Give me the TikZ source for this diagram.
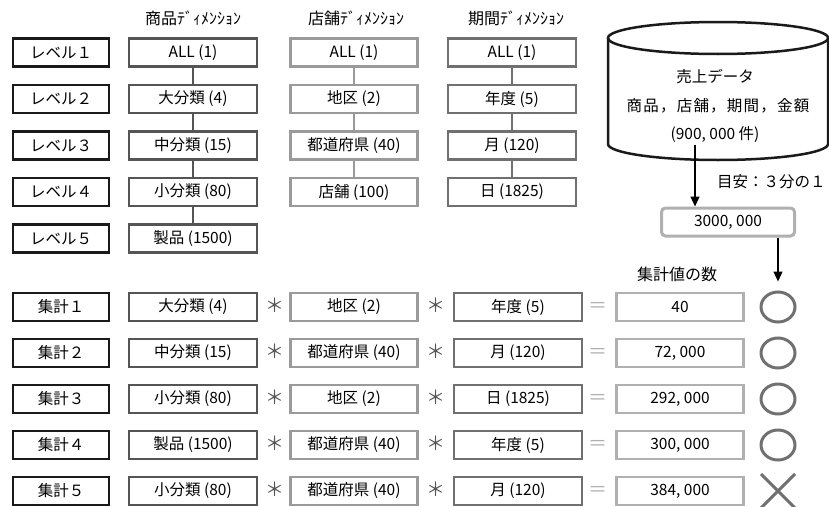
\documentclass[tikz,border=0pt]{standalone}
\usepackage{fontspec}
\setmainfont{Noto Sans CJK JP}
\usetikzlibrary{arrows.meta,shapes.geometric,calc}
\definecolor{cLvl}{HTML}{1A1A1A}
\definecolor{cProd}{HTML}{555555}
\definecolor{cStore}{HTML}{9A9A9A}
\definecolor{cPer}{HTML}{707070}
\definecolor{cVal}{HTML}{B0B0B0}
\definecolor{cMark}{HTML}{707070}
\begin{document}
\begin{tikzpicture}[x=1pt,y=-1pt,
  font=\fontsize{15.5}{17}\selectfont,
  box/.style={draw, line width=2.8pt, minimum height=28pt, inner sep=0pt, text=black},
  lvl/.style={box, draw=cLvl, minimum width=96pt},
  prod/.style={box, draw=cProd, minimum width=128pt},
  store/.style={box, draw=cStore, minimum width=127pt},
  per/.style={box, draw=cPer, minimum width=128pt},
  val/.style={box, draw=cVal, minimum width=127pt},
  link/.style={line width=2.8pt},
  op/.style={inner sep=0pt, font=\fontsize{19}{19}\selectfont},
  okmark/.style={ellipse, draw=cMark, line width=3pt, minimum width=34pt, minimum height=30pt, inner sep=0pt},
  arr/.style={line width=1.2pt, -{Triangle[length=10pt,width=9pt]}},
  hdr/.style={inner sep=0pt, font=\fontsize{16}{17}\selectfont}
]
\useasboundingbox (0,0) rectangle (829,506);

% headers
\node[hdr] (h1) at (193,18) {商品ﾃﾞｨﾒﾝｼｮﾝ};
\node[hdr] (h2) at (356,18) {店舗ﾃﾞｨﾒﾝｼｮﾝ};
\node[hdr] (h3) at (516,18) {期間ﾃﾞｨﾒﾝｼｮﾝ};

% levels
\node[lvl] (l1) at (61,52.5) {レベル１};
\node[lvl] (l2) at (61,99) {レベル２};
\node[lvl] (l3) at (61,145.5) {レベル３};
\node[lvl] (l4) at (61,192) {レベル４};
\node[lvl] (l5) at (61,238.5) {レベル５};

% product dimension
\node[prod] (p1) at (193,52.5) {ALL (1)};
\node[prod] (p2) at (193,99) {大分類 (4)};
\node[prod] (p3) at (193,145.5) {中分類 (15)};
\node[prod] (p4) at (193,192) {小分類 (80)};
\node[prod] (p5) at (193,238.5) {製品 (1500)};
\draw[link, draw=cProd] (p1) -- (p2) (p2) -- (p3) (p3) -- (p4) (p4) -- (p5);

% store dimension
\node[store] (s1) at (354,52.5) {ALL (1)};
\node[store] (s2) at (354,99) {地区 (2)};
\node[store] (s3) at (354,145.5) {都道府県 (40)};
\node[store] (s4) at (354,192) {店舗 (100)};
\draw[link, draw=cStore] (s1) -- (s2) (s2) -- (s3) (s3) -- (s4);

% period dimension
\node[per] (t1) at (512,52.5) {ALL (1)};
\node[per] (t2) at (512,99) {年度 (5)};
\node[per] (t3) at (512,145.5) {月 (120)};
\node[per] (t4) at (512,192) {日 (1825)};
\draw[link, draw=cPer] (t1) -- (t2) (t2) -- (t3) (t3) -- (t4);

% sales data cylinder
\draw[line width=2.5pt, draw=cLvl] (718,38) ellipse [x radius=110pt, y radius=16pt];
\draw[line width=2.5pt, draw=cLvl] (608,38) -- (608,144)
  arc[start angle=180, end angle=360, x radius=110pt, y radius=16pt] -- (828,38);
\node[inner sep=0pt] (db1) at (715,77) {売上データ};
\node[inner sep=0pt] (db2) at (718,106) {\addfontfeature{LetterSpace=8}商品，店舗，期間，金額};
\node[inner sep=0pt] (db3) at (715,135) {(900, 000 件)};
\coordinate (dbout) at (695,145);

\node[draw=cVal, line width=3pt, rounded corners=4pt, minimum width=133pt, minimum height=28pt, inner sep=0pt] (tot) at (728,222) {3000, 000};
\draw[arr] (dbout) -- (dbout |- tot.north);
\node[inner sep=0pt, anchor=west] (guide) at (717,182) {目安：３分の１};

\node[inner sep=0pt, font=\fontsize{16}{17}\selectfont] (cnt) at (677,274) {集計値の数};

% aggregations
\foreach \i/\y/\a/\b/\c/\v in {1/307/大分類 (4)/地区 (2)/年度 (5)/40,
  2/353/中分類 (15)/都道府県 (40)/月 (120)/{72, 000},
  3/399/小分類 (80)/地区 (2)/日 (1825)/{292, 000},
  4/445/製品 (1500)/都道府県 (40)/年度 (5)/{300, 000},
  5/491/小分類 (80)/都道府県 (40)/月 (120)/{384, 000}}{
  \node[lvl] (g\i) at (61,\y) {集計\ifcase\i\or １\or ２\or ３\or ４\or ５\fi};
  \node[prod] (ga\i) at (193,\y) {\a};
  \node[op, text=cProd] (m\i) at (275,\y-2) {＊};
  \node[store] (gb\i) at (354,\y) {\b};
  \node[op, text=cProd] (n\i) at (436,\y-2) {＊};
  \node[per] (gc\i) at (518,\y) {\c};
  \node[op, text=cVal] (e\i) at (598,\y) {＝};
  \node[val] (v\i) at (680,\y) {\v};
}
\node[okmark] (o1) at (778,307) {};
\node[okmark] (o2) at (778,353) {};
\node[okmark] (o3) at (778,399) {};
\node[okmark] (o4) at (778,445) {};
\coordinate (x5) at (778,491);
\draw[draw=cMark, line width=3pt] ($(x5)+(-17,-17)$) -- ($(x5)+(17,17)$)
  ($(x5)+(17,-17)$) -- ($(x5)+(-17,17)$);

\draw[arr] (tot.south -| o1) -- ([yshift=9pt]o1.north);
\end{tikzpicture}
\end{document}
